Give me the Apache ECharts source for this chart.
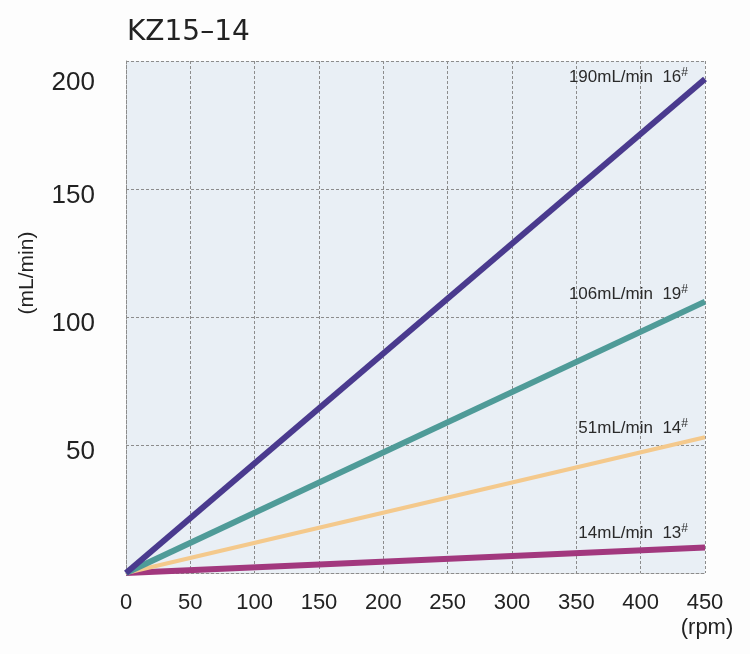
<!DOCTYPE html>
<html>
<head>
<meta charset="utf-8">
<script src="https://cdn.jsdelivr.net/npm/echarts@6/dist/echarts.min.js"></script>
<style>
html,body{margin:0;padding:0;background:#fdfdfd;}
#c{width:750px;height:654px;}
</style>
</head>
<body>
<div id="c"></div>
<script>
const titleText = 'KZ15\u201314';
const rpm = [0, 450];
const flow16 = [0, 193];
const flow19 = [0, 106];
const flow14 = [0, 53];
const flow13 = [0, 10];
const seriesNames = ['190mL/min', '106mL/min', '51mL/min', '14mL/min'];
const tubeNos = ['16', '19', '14', '13'];
const xTicks = [0, 50, 100, 150, 200, 250, 300, 350, 400, 450];
const yTicks = [0, 50, 100, 150, 200];

const colors = ['#4a3a8e', '#4f9b98', '#f4c98c', '#a2387e'];
const widths = [6, 6, 4, 6];
const labelOffsets = [[-17, -2], [-17, -7], [-17, -9], [-17, -14]];
const flows = [flow16, flow19, flow14, flow13];

const series = flows.map((f, i) => ({
  type: 'line',
  name: seriesNames[i],
  showSymbol: false,
  symbol: 'none',
  silent: true,
  lineStyle: { color: colors[i], width: widths[i], cap: 'butt' },
  endLabel: {
    show: true,
    distance: 0,
    align: 'right',
    verticalAlign: 'middle',
    offset: labelOffsets[i],
    formatter: '{t|' + seriesNames[i] + '  ' + tubeNos[i] + '}{s|#}',
    rich: {
      t: { fontFamily: 'Liberation Sans', fontSize: 17, color: '#2a2a2a' },
      s: { fontFamily: 'Liberation Sans', fontSize: 12, color: '#2a2a2a', padding: [0, 0, 9, 0] }
    }
  },
  data: rpm.map((x, j) => [x, f[j]]),
  z: 10 - i
}));
series.reverse();

const chart = echarts.init(document.getElementById('c'));
chart.setOption({
  backgroundColor: '#fdfdfd',
  animation: false,
  title: {
    text: titleText,
    left: 122,
    top: 14,
    textStyle: { fontFamily: 'DejaVu Sans', fontSize: 28, fontWeight: 'normal', color: '#222' }
  },
  grid: {
    left: 126, right: 45, top: 61, bottom: 81,
    show: true, backgroundColor: '#e9eff5', borderWidth: 0
  },
  xAxis: {
    type: 'value',
    min: xTicks[0], max: xTicks[xTicks.length - 1], interval: 50,
    name: '(rpm)',
    nameLocation: 'end',
    nameGap: 2,
    nameTextStyle: { fontFamily: 'Liberation Sans', fontSize: 22, color: '#222', align: 'center', verticalAlign: 'top', padding: [44, 0, 0, 0] },
    axisLine: { show: true, lineStyle: { color: '#8c8c8c', width: 1, type: [3, 2] } },
    axisTick: { show: false },
    axisLabel: { fontFamily: 'Liberation Sans', fontSize: 22, color: '#222', margin: 19 },
    splitLine: { show: true, lineStyle: { color: '#8c8c8c', width: 1, type: [3, 2] } }
  },
  yAxis: {
    type: 'value',
    min: yTicks[0], max: yTicks[yTicks.length - 1], interval: 50,
    name: '(mL/min)',
    nameLocation: 'middle',
    nameRotate: 90,
    nameGap: 88,
    nameTextStyle: { fontFamily: 'Liberation Sans', fontSize: 21, color: '#222', padding: [0, 0, 0, 88] },
    axisLine: { show: true, lineStyle: { color: '#8c8c8c', width: 1, type: [3, 2] } },
    axisTick: { show: false },
    axisLabel: {
      fontFamily: 'Liberation Sans', fontSize: 26, color: '#222', margin: 31,
      formatter: v => v === 0 ? '' : (v === 200 ? '{d|' + v + '}' : '{n|' + v + '}'),
      rich: {
        n: { fontFamily: 'Liberation Sans', fontSize: 26, color: '#222', padding: [14, 0, 0, 0] },
        d: { fontFamily: 'Liberation Sans', fontSize: 26, color: '#222', padding: [44, 0, 0, 0] }
      }
    },
    splitLine: { show: true, lineStyle: { color: '#8c8c8c', width: 1, type: [3, 2] } }
  },
  series: series
});
</script>
</body>
</html>
